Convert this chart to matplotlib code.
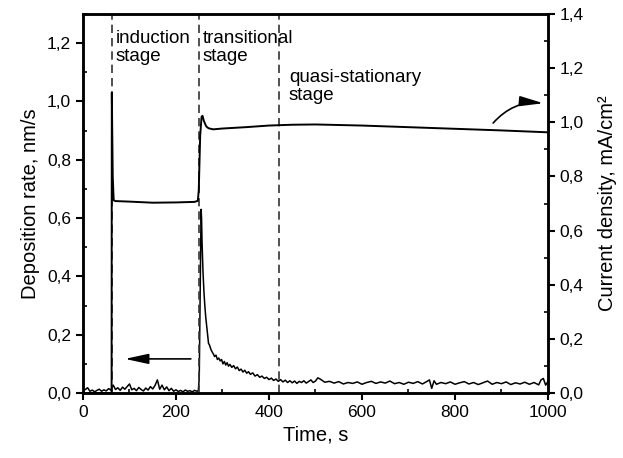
import numpy as np
import matplotlib.pyplot as plt
from matplotlib.ticker import MultipleLocator, FuncFormatter

plt.rcParams['font.family'] = ['Liberation Sans', 'DejaVu Sans']

# Deposition rate (left axis), nm/s
dep_time = [0, 5, 10, 15, 20, 25, 30, 35, 40, 45, 50, 55, 60, 65, 70, 75, 80, 85, 90, 95,
            100, 105, 110, 115, 120, 125, 130, 135, 140, 145, 150, 155, 160, 165, 170, 175,
            180, 185, 190, 195, 200, 205, 210, 215, 220, 225, 230, 235, 240, 245, 248,
            250, 252, 254, 255, 256, 258, 260, 262, 264, 266, 268, 270, 272, 275, 278, 280,
            283, 286, 289, 292, 295, 298, 301, 304, 307, 310, 313, 316, 320, 324, 328, 332,
            336, 340, 344, 348, 352, 356, 360, 365, 370, 375, 380, 385, 390, 395, 400, 405,
            410, 415, 420, 425, 430, 435, 440, 445, 450, 455, 460, 465, 470, 475, 480, 485,
            490, 495, 500, 505, 510, 520, 530, 540, 550, 560, 570, 580, 590, 600, 610, 620,
            630, 640, 650, 660, 670, 680, 690, 700, 710, 720, 730, 740, 745, 750, 755, 760,
            770, 780, 790, 800, 810, 820, 830, 840, 850, 860, 870, 880, 890, 900, 910, 920,
            930, 940, 950, 960, 970, 980, 985, 990, 995, 1000]
dep_rate = [0.008, 0.012, 0.018, 0.006, 0.010, 0.004, 0.009, 0.013, 0.006, 0.011, 0.007,
            0.015, 0.010, 0.027, 0.012, 0.018, 0.009, 0.020, 0.013, 0.022, 0.031, 0.011,
            0.016, 0.008, 0.019, 0.012, 0.007, 0.017, 0.010, 0.022, 0.014, 0.026, 0.045,
            0.013, 0.027, 0.011, 0.021, 0.008, 0.016, 0.006, 0.011, 0.005, 0.009, 0.004,
            0.010, 0.006, 0.008, 0.004, 0.009, 0.006, 0.008,
            0.05, 0.35, 0.63, 0.60, 0.52, 0.42, 0.35, 0.30, 0.26, 0.23, 0.20, 0.17, 0.165,
            0.15, 0.14, 0.135, 0.125, 0.13, 0.115, 0.12, 0.11, 0.115, 0.10, 0.108, 0.096,
            0.104, 0.092, 0.098, 0.088, 0.094, 0.083, 0.089, 0.077, 0.082, 0.072, 0.078,
            0.068, 0.073, 0.064, 0.069, 0.058, 0.063, 0.054, 0.058, 0.050, 0.054, 0.046,
            0.051, 0.043, 0.048, 0.040, 0.046, 0.038, 0.044, 0.036, 0.042, 0.035, 0.041,
            0.033, 0.040, 0.036, 0.042, 0.034, 0.039, 0.045, 0.036, 0.041, 0.052, 0.048,
            0.037, 0.040, 0.034, 0.039, 0.031, 0.036, 0.033, 0.038, 0.030, 0.036, 0.040,
            0.033, 0.038, 0.034, 0.041, 0.032, 0.036, 0.030, 0.037, 0.033, 0.039, 0.031,
            0.040, 0.045, 0.016, 0.042, 0.030, 0.036, 0.032, 0.038, 0.030, 0.035, 0.039,
            0.031, 0.036, 0.029, 0.035, 0.041, 0.030, 0.036, 0.032, 0.038, 0.029, 0.035,
            0.031, 0.037, 0.030, 0.036, 0.028, 0.045, 0.050, 0.027, 0.040]

# Current density (right axis), mA/cm^2
cur_time = [0, 61.5, 62, 63, 64, 66, 70, 100, 150, 200, 240, 247, 249, 252, 255, 257,
            260, 265, 270, 280, 300, 350, 400, 450, 500, 600, 700, 800, 900, 1000]
cur_dens = [0.0, 0.0, 1.11, 0.95, 0.80, 0.712, 0.709, 0.707, 0.703, 0.704, 0.706, 0.71,
            0.75, 0.95, 1.02, 1.024, 1.005, 0.985, 0.978, 0.974, 0.977, 0.982, 0.988,
            0.991, 0.992, 0.988, 0.982, 0.976, 0.970, 0.963]

stage_bounds = [62, 250, 422]

comma = FuncFormatter(lambda v, pos: f"{v:.1f}".replace('.', ','))

fig = plt.figure(figsize=(6.23, 4.58), dpi=100)
ax = fig.add_axes([0.1332, 0.1419, 0.7464, 0.8275])
ax2 = ax.twinx()

ax.plot(dep_time, dep_rate, color='black', lw=1.1)
ax2.plot(cur_time, cur_dens, color='black', lw=1.4)

for xb in stage_bounds:
    ax.axvline(xb, color='#333333', lw=1.2, dashes=(5, 3))

ax.set_xlim(0, 1000)
ax.set_ylim(0, 1.3)
ax2.set_ylim(0, 1.4)

ax.xaxis.set_major_locator(MultipleLocator(200))
ax.xaxis.set_minor_locator(MultipleLocator(100))
ax.yaxis.set_major_locator(MultipleLocator(0.2))
ax.yaxis.set_minor_locator(MultipleLocator(0.1))
ax2.yaxis.set_major_locator(MultipleLocator(0.2))
ax2.yaxis.set_minor_locator(MultipleLocator(0.1))
ax.yaxis.set_major_formatter(comma)
ax2.yaxis.set_major_formatter(comma)

for a in (ax, ax2):
    a.tick_params(which='major', direction='out', length=5, width=1.5, labelsize=12.5)
    a.tick_params(which='minor', direction='in', length=3, width=1.2)
    for s in a.spines.values():
        s.set_linewidth(1.8)
ax.tick_params(top=False, right=False, which='both')

ax.set_xlabel("Time, s", fontsize=14.5, labelpad=4)
ax.set_ylabel("Deposition rate, nm/s", fontsize=14.5, labelpad=5)
ax2.set_ylabel("Current density, mA/cm²", fontsize=14.5, labelpad=10)

ax.text(71, 1.245, "induction\nstage", fontsize=13.5, va='top', linespacing=1.05)
ax.text(258, 1.245, "transitional\nstage", fontsize=13.5, va='top', linespacing=1.05)
ax.text(443, 1.11, "quasi-stationary\nstage", fontsize=13.5, va='top', linespacing=1.05)

arrow_style = '-|>,head_length=1.3,head_width=0.28'
ax.annotate("", xy=(90, 0.117), xytext=(232, 0.117),
            arrowprops=dict(arrowstyle=arrow_style, mutation_scale=11, lw=1.2,
                            color='black', shrinkA=0, shrinkB=0))
ax.annotate("", xy=(990, 0.994), xytext=(882, 0.926),
            arrowprops=dict(arrowstyle=arrow_style, mutation_scale=11, lw=1.2,
                            color='black', connectionstyle="arc3,rad=-0.25",
                            shrinkA=0, shrinkB=0))

fig.savefig("out.png", dpi=100)
